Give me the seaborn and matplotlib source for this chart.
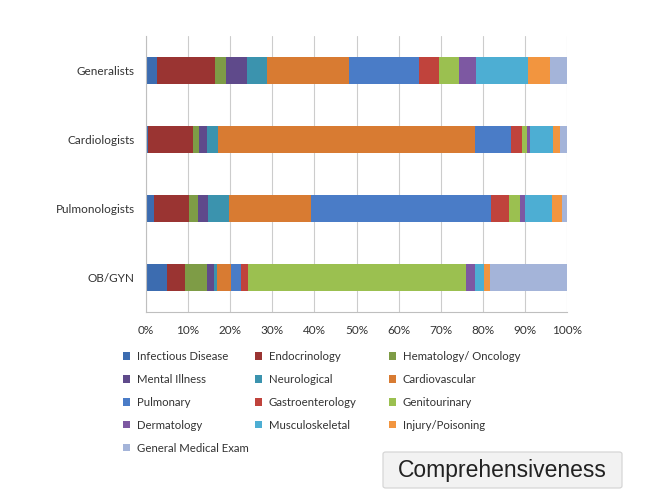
import pandas as pd
import matplotlib
matplotlib.use("Agg")
import matplotlib.pyplot as plt
import seaborn as sns
from matplotlib.patches import Patch, FancyBboxPatch

specialties = ["Generalists", "Cardiologists", "Pulmonologists", "OB/GYN"]

# share of visits (%) per diagnosis group, one value per specialty (top to bottom)
infectious_disease = [2.7, 0.5, 1.9, 4.9]
endocrinology = [13.8, 10.6, 8.4, 4.4]
hematology_oncology = [2.4, 1.4, 2.0, 5.1]
mental_illness = [5.0, 2.1, 2.5, 1.8]
neurological = [4.9, 2.4, 4.8, 0.7]
cardiovascular = [19.3, 61.1, 19.5, 3.2]
pulmonary = [16.8, 8.5, 42.8, 2.5]
gastroenterology = [4.8, 2.6, 4.3, 1.7]
genitourinary = [4.6, 1.2, 2.6, 51.7]
dermatology = [4.2, 0.8, 1.2, 2.1]
musculoskeletal = [12.3, 5.5, 6.4, 2.2]
injury_poisoning = [5.2, 1.6, 2.3, 1.4]
general_medical_exam = [4.0, 1.7, 1.3, 18.3]

series_names = ["Infectious Disease", "Endocrinology", "Hematology/ Oncology",
                "Mental Illness", "Neurological", "Cardiovascular",
                "Pulmonary", "Gastroenterology", "Genitourinary",
                "Dermatology", "Musculoskeletal", "Injury/Poisoning",
                "General Medical Exam"]
series_values = [infectious_disease, endocrinology, hematology_oncology,
                 mental_illness, neurological, cardiovascular,
                 pulmonary, gastroenterology, genitourinary,
                 dermatology, musculoskeletal, injury_poisoning,
                 general_medical_exam]
colors = ["#3C6CB0", "#9A3432", "#7E9C46", "#5F4A8B", "#3B93AE", "#D87B32",
          "#4A7CC7", "#C0433C", "#9BC050", "#7D58A2", "#4DAED3", "#F2953F",
          "#A4B4D9"]

share = pd.DataFrame(dict(zip(series_names, series_values)), index=specialties)
stacked = share.cumsum(axis=1)
stacked["specialty"] = specialties

sns.set_theme(style="white")
plt.rcParams["font.family"] = ["Lato", "DejaVu Sans"]

fig = plt.figure(figsize=(6.7, 4.92), dpi=100)
ax = fig.add_axes([146 / 670, 1 - 312 / 492, 421 / 670, 276 / 492])

# draw from the right end backwards so every segment sits on top of the longer one
for name, color in reversed(list(zip(series_names, colors))):
    sns.barplot(data=stacked, x=name, y="specialty", order=specialties,
                color=color, saturation=1, width=0.4, linewidth=0, ax=ax)

ax.set_xlim(0, 100)
ax.set_ylim(3.5, -0.5)
ax.set_xticks(range(0, 101, 10))
ax.set_xticklabels([f"{v}%" for v in range(0, 101, 10)])
ax.set_xlabel("")
ax.set_ylabel("")
ax.grid(axis="x", color="#CCCCCC", linewidth=0.8)
ax.set_axisbelow(True)
for side in ["top", "right"]:
    ax.spines[side].set_visible(False)
for side in ["left", "bottom"]:
    ax.spines[side].set_color("#BFBFBF")
    ax.spines[side].set_linewidth(0.8)
ax.set_yticks([-0.5, 0.5, 1.5, 2.5, 3.5], minor=True)
ax.tick_params(axis="y", which="major", length=0, pad=8, labelsize=8.5, labelcolor="#333333")
ax.tick_params(axis="y", which="minor", length=4, color="#BFBFBF", width=0.8, direction="out")
ax.tick_params(axis="x", length=4, color="#C8C8C8", width=0.8, direction="out",
               labelsize=8.5, labelcolor="#333333", pad=5)

# legend laid out like the source: three columns filled row by row
column_x = [123, 255, 389]
for col, x0 in enumerate(column_x):
    idx = list(range(col, len(series_names), 3))
    handles = [Patch(facecolor=colors[i], edgecolor="none", label=series_names[i]) for i in idx]
    fig.legend(handles=handles, loc="upper left", bbox_to_anchor=(x0 / 670, 1 - 351 / 492),
               frameon=False, fontsize=8.2, borderpad=0, borderaxespad=0,
               handlelength=0.6, handleheight=0.6, handletextpad=0.6,
               labelspacing=1.05, labelcolor="#333333")

fig.add_artist(FancyBboxPatch((383 / 670, 1 - 488 / 492), 239 / 670, 36 / 492,
                              boxstyle="round,pad=0,rounding_size=0.004",
                              transform=fig.transFigure, facecolor="#F2F2F2",
                              edgecolor="#D2D2D2", linewidth=0.8))
fig.text(502.5 / 670, 1 - 470 / 492, "Comprehensiveness", ha="center", va="center",
         fontsize=16.5, color="#222222", family=["Liberation Sans", "DejaVu Sans"])

fig.savefig("out.png", dpi=100)
